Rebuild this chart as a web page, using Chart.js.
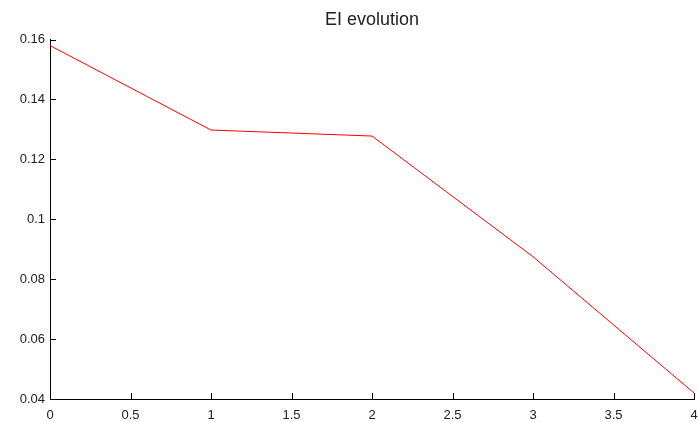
<!DOCTYPE html>
<html lang="en">
<head>
    <meta charset="UTF-8">
    <title>EI evolution</title>
    <script src="https://cdn.jsdelivr.net/npm/chart.js"></script>
    <style>
        html, body { margin: 0; padding: 0; background: #fff; }
        #wrap { width: 699px; height: 422px; }
    </style>
</head>
<body>
    <div id="wrap"><canvas id="eiChart"></canvas></div>

    <script>
        // values
        const iterations = [0, 1, 2, 3, 4];
        const eiValues = [0.158, 0.1298, 0.1278, 0.0875, 0.042];

        const xTicks = [0, 0.5, 1, 1.5, 2, 2.5, 3, 3.5, 4];
        const yTicks = [0.04, 0.06, 0.08, 0.1, 0.12, 0.14, 0.16];

        // matlab style inward tick marks
        const innerTicks = {
            id: 'innerTicks',
            afterDraw(chart) {
                const { ctx, chartArea, scales } = chart;
                ctx.save();
                ctx.strokeStyle = '#000';
                ctx.lineWidth = 1;
                ctx.beginPath();
                xTicks.forEach(v => {
                    const px = Math.round(scales.x.getPixelForValue(v)) + 0.5;
                    ctx.moveTo(px, chartArea.bottom);
                    ctx.lineTo(px, chartArea.bottom - 6);
                });
                yTicks.forEach(v => {
                    const py = Math.round(scales.y.getPixelForValue(v)) + 0.5;
                    ctx.moveTo(chartArea.left, py);
                    ctx.lineTo(chartArea.left + 6, py);
                });
                ctx.stroke();
                ctx.restore();
            }
        };

        const tickFont = { family: 'Liberation Sans, Arial, sans-serif', size: 13 };

        const chart = new Chart(document.getElementById('eiChart'), {
            type: 'line',
            data: {
                datasets: [{
                    label: 'EI',
                    data: iterations.map((x, i) => ({ x: x, y: eiValues[i] })),
                    borderColor: '#ff0000',
                    borderWidth: 1,
                    pointRadius: 0,
                    tension: 0,
                    fill: false
                }]
            },
            options: {
                responsive: true,
                maintainAspectRatio: false,
                animation: false,
                layout: { padding: 0 },
                plugins: {
                    legend: { display: false },
                    tooltip: { enabled: false },
                    title: {
                        display: true,
                        fullSize: false,
                        text: 'EI evolution',
                        color: '#222',
                        font: { family: 'Liberation Sans, Arial, sans-serif', size: 18, weight: 'normal' },
                        padding: { top: 9, bottom: 9 }
                    }
                },
                scales: {
                    x: {
                        type: 'linear',
                        min: 0,
                        max: 4,
                        grid: { display: false, drawTicks: false },
                        border: { display: true, color: '#000', width: 1 },
                        afterBuildTicks: s => { s.ticks = xTicks.map(v => ({ value: v })); },
                        afterFit: s => { s.height = 23; s.paddingLeft = 0; s.paddingRight = 5; },
                        ticks: {
                            color: '#222',
                            font: tickFont,
                            padding: 9,
                            maxRotation: 0,
                            callback: v => String(v)
                        }
                    },
                    y: {
                        type: 'linear',
                        min: 0.04,
                        max: 0.16,
                        grid: { display: false, drawTicks: false },
                        border: { display: true, color: '#000', width: 1 },
                        afterBuildTicks: s => { s.ticks = yTicks.map(v => ({ value: v })); },
                        afterFit: s => { s.width = 50; },
                        ticks: {
                            color: '#222',
                            font: tickFont,
                            padding: 5,
                            callback: v => String(Math.round(v * 100) / 100)
                        }
                    }
                }
            },
            plugins: [innerTicks]
        });
    </script>
</body>
</html>
